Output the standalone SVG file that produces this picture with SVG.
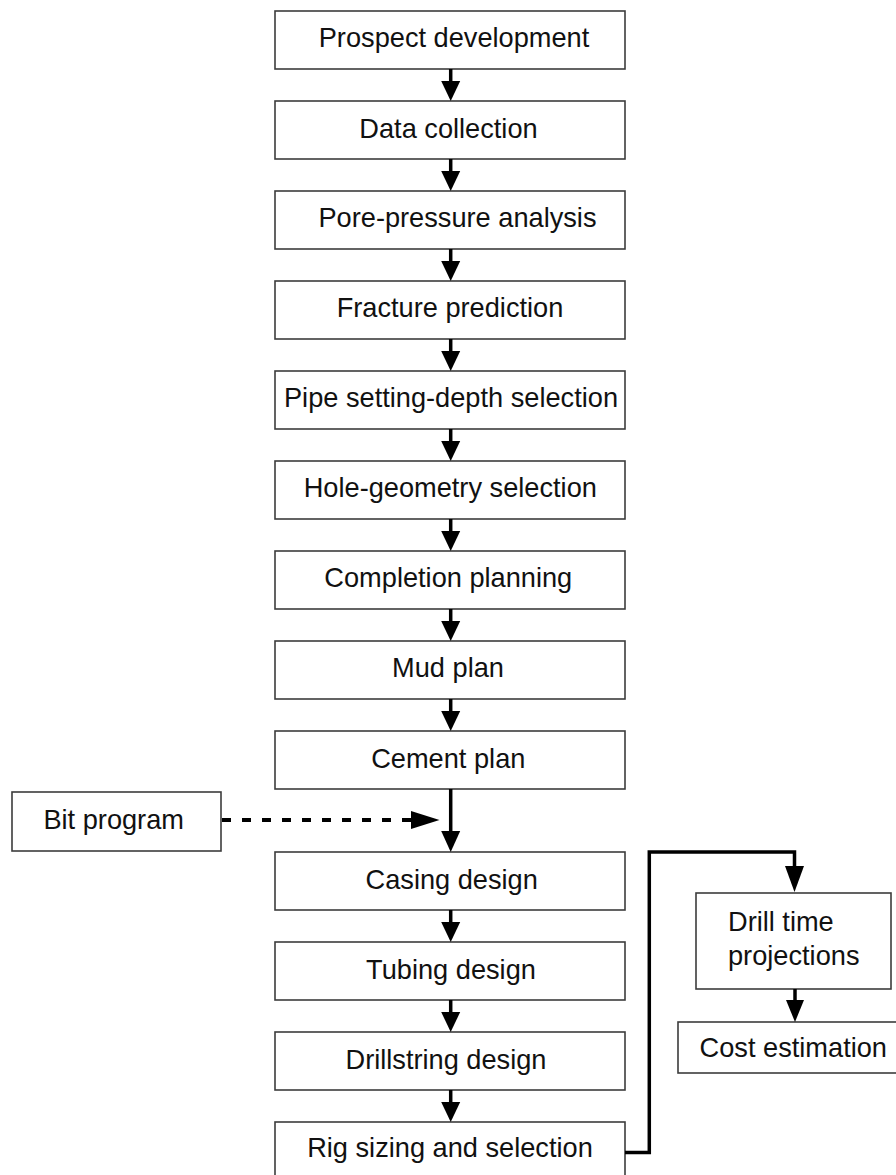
<svg xmlns="http://www.w3.org/2000/svg" width="896" height="1175" viewBox="0 0 896 1175">
<style>
.box{fill:#fff;stroke:#3c3c3c;stroke-width:1.6}
.t{font-family:"Liberation Sans",Arial,Helvetica,sans-serif;font-size:27.2px;fill:#111;text-anchor:middle}
.tl{font-family:"Liberation Sans",Arial,Helvetica,sans-serif;font-size:27.2px;fill:#111}
.ln{fill:none;stroke:#000;stroke-width:3.5}
.dash{fill:none;stroke:#000;stroke-width:3.8;stroke-dasharray:9 11}
.hd{fill:#000}
</style>
<rect width="896" height="1175" fill="#fff"/>
<g id="nodes">
<g id="n1"><rect class="box" x="275" y="11" width="350" height="58"/><text class="t" x="454" y="47">Prospect development</text></g>
<g id="n2"><rect class="box" x="275" y="101" width="350" height="58"/><text class="t" x="448.5" y="138">Data collection</text></g>
<g id="n3"><rect class="box" x="275" y="191" width="350" height="58"/><text class="t" x="457.5" y="227">Pore-pressure analysis</text></g>
<g id="n4"><rect class="box" x="275" y="281" width="350" height="58"/><text class="t" x="450" y="317">Fracture prediction</text></g>
<g id="n5"><rect class="box" x="275" y="371" width="350" height="58"/><text class="t" x="451" y="407">Pipe setting-depth selection</text></g>
<g id="n6"><rect class="box" x="275" y="461" width="350" height="58"/><text class="t" x="450.3" y="497">Hole-geometry selection</text></g>
<g id="n7"><rect class="box" x="275" y="551" width="350" height="58"/><text class="t" x="448.3" y="587">Completion planning</text></g>
<g id="n8"><rect class="box" x="275" y="641" width="350" height="58"/><text class="t" x="448" y="677">Mud plan</text></g>
<g id="n9"><rect class="box" x="275" y="731" width="350" height="58"/><text class="t" x="448.3" y="768">Cement plan</text></g>
<g id="n10"><rect class="box" x="12" y="792" width="209" height="59"/><text class="t" x="113.7" y="828.5">Bit program</text></g>
<g id="n11"><rect class="box" x="275" y="852" width="350" height="58"/><text class="t" x="451.7" y="888.5">Casing design</text></g>
<g id="n12"><rect class="box" x="275" y="942" width="350" height="58"/><text class="t" x="451" y="978.5">Tubing design</text></g>
<g id="n13"><rect class="box" x="275" y="1032" width="350" height="58"/><text class="t" x="446" y="1068.5">Drillstring design</text></g>
<g id="n14"><rect class="box" x="275" y="1122" width="350" height="60"/><text class="t" x="450" y="1157">Rig sizing and selection</text></g>
<g id="n15"><rect class="box" x="696" y="893" width="195" height="96"/><text class="tl" x="728" y="931">Drill time</text><text class="tl" x="728" y="965">projections</text></g>
<g id="n16"><rect class="box" x="678" y="1022" width="230" height="51"/><text class="t" x="793.3" y="1057">Cost estimation</text></g>
</g>
<g id="connectors">
<path class="ln" d="M450.7 69V82 M450.7 159V172 M450.7 249V262 M450.7 339V352 M450.7 429V442 M450.7 519V532 M450.7 609V622 M450.7 699V712 M450.7 789V833 M450.7 910V923 M450.7 1000V1013 M450.7 1090V1103"/>
<g class="hd">
<polygon points="441.2,81 460.2,81 450.7,101"/>
<polygon points="441.2,171 460.2,171 450.7,191"/>
<polygon points="441.2,261 460.2,261 450.7,281"/>
<polygon points="441.2,351 460.2,351 450.7,371"/>
<polygon points="441.2,441 460.2,441 450.7,461"/>
<polygon points="441.2,531 460.2,531 450.7,551"/>
<polygon points="441.2,621 460.2,621 450.7,641"/>
<polygon points="441.2,711 460.2,711 450.7,731"/>
<polygon points="441.2,831 460.2,831 450.7,852"/>
<polygon points="441.2,922 460.2,922 450.7,942"/>
<polygon points="441.2,1012 460.2,1012 450.7,1032"/>
<polygon points="441.2,1102 460.2,1102 450.7,1122"/>
</g>
<path class="dash" d="M222 820H412"/>
<polygon class="hd" points="411,811 411,829 439.5,820"/>
<path class="ln" d="M625 1152.5H649.3V852H794.5V868" stroke-linejoin="miter"/>
<polygon class="hd" points="785,866 804,866 794.5,892"/>
<path class="ln" d="M795 989V1002"/>
<polygon class="hd" points="786,1000 804,1000 795,1022"/>
</g>
</svg>
